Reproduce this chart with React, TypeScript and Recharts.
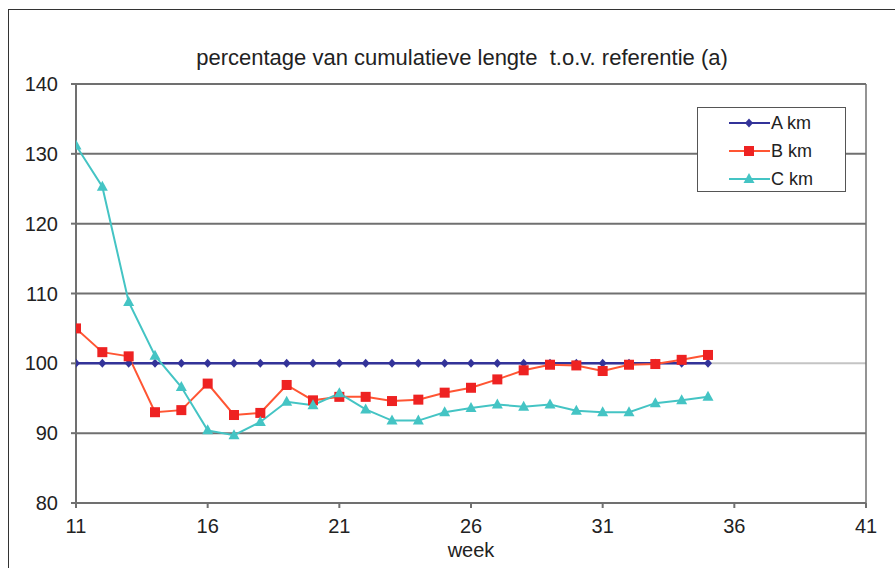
import {
  LineChart,
  Line,
  XAxis,
  YAxis,
  ReferenceLine,
} from 'recharts';

const weeks = [11, 12, 13, 14, 15, 16, 17, 18, 19, 20, 21, 22, 23, 24, 25, 26, 27, 28, 29, 30, 31, 32, 33, 34, 35];
const aKm = [100, 100, 100, 100, 100, 100, 100, 100, 100, 100, 100, 100, 100, 100, 100, 100, 100, 100, 100, 100, 100, 100, 100, 100, 100];
const bKm = [105.0, 101.6, 101.0, 93.0, 93.3, 97.1, 92.6, 92.9, 96.9, 94.7, 95.2, 95.2, 94.6, 94.8, 95.8, 96.5, 97.7, 99.0, 99.8, 99.7, 98.9, 99.8, 99.9, 100.5, 101.2];
const cKm = [131.2, 125.3, 108.8, 101.1, 96.6, 90.4, 89.7, 91.6, 94.5, 94.0, 95.7, 93.4, 91.8, 91.8, 93.0, 93.6, 94.1, 93.8, 94.1, 93.2, 93.0, 93.0, 94.3, 94.7, 95.2];

const xTicks = [11, 16, 21, 26, 31, 36, 41];
const yTicks = [80, 90, 100, 110, 120, 130, 140];
const darkGrid = [90, 110, 120, 130, 140];

const TITLE = 'percentage van cumulatieve lengte  t.o.v. referentie (a)';
const FONT = '"Liberation Sans", Arial, sans-serif';

const NAVY = '#333399';
const RED = '#ee2222';
const RED_LINE = '#ff5533';
const TEAL = '#44c4c4';
const AXIS = '#707070';

const data = weeks.map((w, i) => ({ week: w, a: aKm[i], b: bKm[i], c: cKm[i] }));

const series = [
  { key: 'a', name: 'A km', line: NAVY, marker: NAVY, shape: 'diamond' },
  { key: 'b', name: 'B km', line: RED_LINE, marker: RED, shape: 'square' },
  { key: 'c', name: 'C km', line: TEAL, marker: TEAL, shape: 'triangle' },
];

function Marker({ cx, cy, shape, color }: { cx: number; cy: number; shape: string; color: string }) {
  if (cx == null || cy == null) return null;
  if (shape === 'diamond') {
    return <polygon points={`${cx},${cy - 4.5} ${cx + 4},${cy} ${cx},${cy + 4.5} ${cx - 4},${cy}`} fill={color} />;
  }
  if (shape === 'square') {
    return <rect x={cx - 5} y={cy - 5} width={10} height={10} fill={color} />;
  }
  return <polygon points={`${cx},${cy - 6} ${cx + 5.5},${cy + 4} ${cx - 5.5},${cy + 4}`} fill={color} />;
}

// legend drawn as a plain box so it does not take room from the plot
function LegendBox() {
  return (
    <div
      style={{
        position: 'absolute',
        left: 697,
        top: 107,
        border: '1.5px solid #555',
        background: '#fff',
        width: 149,
        height: 85,
        boxSizing: 'border-box',
        paddingTop: 1,
      }}
    >
      {series.map((s) => (
        <div key={s.key} style={{ display: 'flex', alignItems: 'center', height: 28 }}>
          <svg width={73} height={20} style={{ display: 'block' }}>
            <line x1={31} x2={72} y1={10} y2={10} stroke={s.line} strokeWidth={2} />
            <Marker cx={51} cy={10} shape={s.shape} color={s.marker} />
          </svg>
          <span style={{ fontFamily: FONT, fontSize: 18, color: '#222' }}>{s.name}</span>
        </div>
      ))}
    </div>
  );
}

export default function App() {
  return (
    <div style={{ position: 'absolute', left: 0, top: 0, width: 895, height: 568, background: '#fff', overflow: 'hidden' }}>
      <div
        style={{
          position: 'absolute',
          left: 8,
          top: 9,
          width: 1000,
          height: 700,
          border: '1.5px solid #333',
        }}
      />
      <div
        style={{
          position: 'absolute',
          left: 0,
          width: 924,
          top: 45,
          textAlign: 'center',
          fontFamily: FONT,
          fontSize: 22,
          color: '#222',
          whiteSpace: 'pre',
        }}
      >
        {TITLE}
      </div>
      <div style={{ position: 'absolute', left: 0, top: 0 }}>
        <LineChart width={895} height={568} data={data} margin={{ top: 84, right: 29, bottom: 35, left: 0 }}>
          {darkGrid.map((v) => (
            <ReferenceLine key={v} y={v} stroke={AXIS} strokeWidth={2} />
          ))}
          <ReferenceLine y={100} stroke="#c4c4c4" strokeWidth={2} />
          <ReferenceLine x={41} stroke={AXIS} strokeWidth={1.5} />
          <XAxis
            dataKey="week"
            type="number"
            domain={[11, 41]}
            ticks={xTicks}
            interval={0}
            height={30}
            stroke={AXIS}
            strokeWidth={2}
            tickSize={5}
            tickMargin={11}
            tick={{ fill: '#222', fontSize: 20, fontFamily: FONT }}
            label={{ value: 'week', position: 'bottom', offset: 10, fill: '#222', fontSize: 20, fontFamily: FONT }}
            allowDataOverflow
          />
          <YAxis
            type="number"
            domain={[80, 140]}
            ticks={yTicks}
            interval={0}
            width={76}
            stroke={AXIS}
            strokeWidth={2}
            tickSize={5}
            tickMargin={13}
            tick={{ fill: '#222', fontSize: 20, fontFamily: FONT }}
            allowDataOverflow
          />
          {series.map((s) => (
            <Line
              key={s.key}
              dataKey={s.key}
              name={s.name}
              type="linear"
              stroke={s.line}
              strokeWidth={s.key === 'a' ? 2.5 : 2}
              dot={(p: any) => <Marker key={`${s.key}-${p.index}`} cx={p.cx} cy={p.cy} shape={s.shape} color={s.marker} />}
              activeDot={false}
              isAnimationActive={false}
            />
          ))}
        </LineChart>
      </div>
      <LegendBox />
    </div>
  );
}
